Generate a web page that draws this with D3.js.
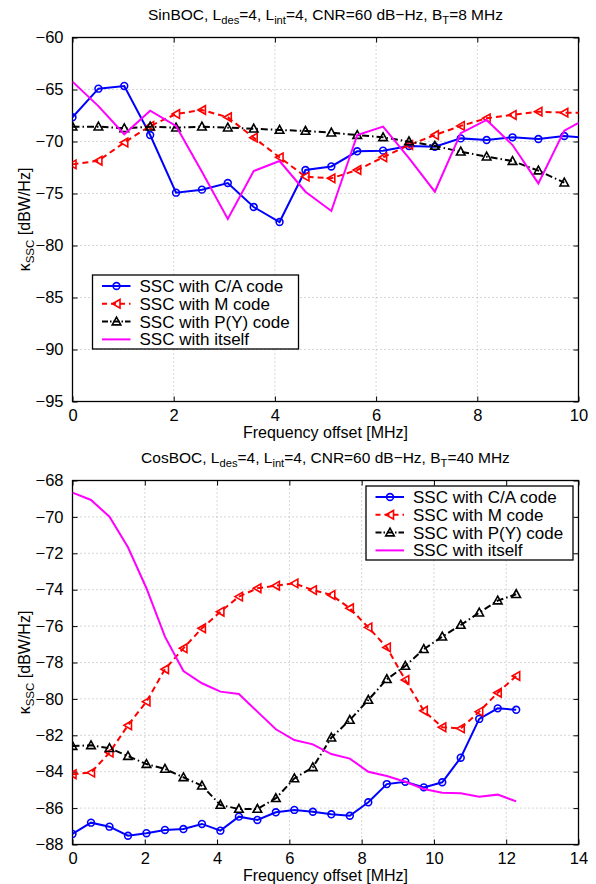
<!DOCTYPE html>
<html><head><meta charset="utf-8">
<script src="https://cdn.jsdelivr.net/npm/d3@7"></script>
<style>
body{margin:0;background:#fff;}
svg{display:block;font-family:"Liberation Sans",Arial,Helvetica,sans-serif;}
</style></head><body>
<svg id="c" width="596" height="884"></svg>
<script>
// ---------- data ----------
const seriesNames = ["SSC with C/A code","SSC with M code","SSC with P(Y) code","SSC with itself"];

// Top panel (SinBOC, B_T = 8 MHz)
const xTop = [0,0.512,1.023,1.535,2.046,2.558,3.069,3.581,4.092,4.604,5.115,5.627,6.138,6.650,7.161,7.673,8.184,8.696,9.207,9.719,10.23];
const topCA  = [-67.67,-64.92,-64.66,-69.38,-74.92,-74.63,-73.99,-76.30,-77.74,-72.74,-72.40,-70.94,-70.88,-70.43,-70.50,-69.70,-69.86,-69.60,-69.76,-69.47,-69.70];
const topM   = [-72.20,-71.85,-70.10,-68.50,-67.36,-66.97,-67.67,-69.63,-71.52,-73.38,-73.54,-72.74,-71.52,-70.34,-69.38,-68.50,-67.77,-67.45,-67.13,-67.23,-67.23];
const topPY  = [-68.57,-68.57,-68.73,-68.57,-68.67,-68.57,-68.67,-68.77,-68.89,-68.99,-69.15,-69.38,-69.60,-70.00,-70.43,-70.98,-71.46,-71.88,-72.80,-73.96];
const topSelf= [-64.25,-66.60,-69.30,-67.04,-68.50,-72.90,-77.45,-72.84,-71.88,-74.83,-76.68,-69.38,-68.57,-71.60,-74.83,-69.20,-67.93,-70.34,-74.03,-68.96,-67.60];

// Bottom panel (CosBOC, B_T = 40 MHz)
const xBot = [0,0.512,1.023,1.535,2.046,2.558,3.069,3.581,4.092,4.604,5.115,5.627,6.138,6.650,7.161,7.673,8.184,8.696,9.207,9.719,10.23,10.742,11.253,11.765,12.276];
const botCA  = [-87.42,-86.80,-87.02,-87.52,-87.38,-87.20,-87.15,-86.87,-87.24,-86.47,-86.65,-86.23,-86.10,-86.20,-86.34,-86.42,-85.68,-84.68,-84.55,-84.86,-84.58,-83.23,-81.10,-80.52,-80.60];
const botM   = [-84.14,-84.05,-82.95,-81.45,-80.15,-78.37,-77.22,-76.12,-75.21,-74.38,-73.92,-73.78,-73.65,-74.02,-74.29,-75.02,-76.07,-77.17,-78.96,-80.65,-81.56,-81.62,-80.70,-79.66,-78.74];
const botPY  = [-82.59,-82.55,-82.71,-83.14,-83.58,-83.85,-84.31,-84.77,-85.83,-86.05,-86.05,-85.46,-84.37,-83.76,-82.13,-81.16,-80.06,-78.92,-78.19,-77.27,-76.58,-75.94,-75.26,-74.60,-74.25];
const botSelf= [-68.67,-69.07,-69.99,-71.67,-73.92,-76.58,-78.47,-79.14,-79.60,-79.73,-80.70,-81.67,-82.26,-82.50,-83.03,-83.28,-84.00,-84.24,-84.55,-84.95,-85.15,-85.19,-85.37,-85.26,-85.63];

const topXTicks = [0,2,4,6,8,10];
const topYTicks = [-60,-65,-70,-75,-80,-85,-90,-95];
const botXTicks = [0,2,4,6,8,10,12,14];
const botYTicks = [-68,-70,-72,-74,-76,-78,-80,-82,-84,-86,-88];

// ---------- styles ----------
const styles = [
  {color:"#0000ff", dash:null,        marker:"circle"},
  {color:"#ff0000", dash:"6,4",       marker:"triLeft"},
  {color:"#000000", dash:"7,3,1.5,3", marker:"triUp"},
  {color:"#ff00ff", dash:null,        marker:null}
];
const FONT = 15.5;
const TICKFONT = 16.5;
const LEGFONT = 17;

const svg = d3.select("#c");
const fmt = v => (v<0 ? "\u2212"+Math.abs(v) : String(v));

function marker(g, type, color){
  if(type==="circle"){
    g.append("circle").attr("r",3.4).attr("fill","none").attr("stroke",color).attr("stroke-width",1.6);
  } else if(type==="triLeft"){
    g.append("path").attr("d","M-4,0L3.5,-4.3L3.5,4.3Z").attr("fill","none").attr("stroke",color).attr("stroke-width",1.6);
  } else if(type==="triUp"){
    g.append("path").attr("d","M0,-4.5L4.3,3.3L-4.3,3.3Z").attr("fill","none").attr("stroke",color).attr("stroke-width",1.6);
  }
}

// parts: strings (normal) or {sub:"..."}; subscript shift is restored on next part
function richText(t, parts, size){
  const shift = 4;
  let pending = 0;
  parts.forEach(p=>{
    if(typeof p==="string"){
      const s = t.append("tspan").text(p);
      if(pending){ s.attr("dy",pending); pending = 0; }
    } else {
      t.append("tspan").attr("dy",shift).attr("font-size",size*0.72).text(p.sub);
      pending = -shift;
    }
  });
}

function panel(opts){
  const {top, bottom, left, right, xDomain, yDomain, xTicks, yTicks, xs, series, title, legend, id} = opts;
  const x = d3.scaleLinear().domain(xDomain).range([left,right]);
  const y = d3.scaleLinear().domain(yDomain).range([bottom,top]);
  const g = svg.append("g");

  svg.append("defs").append("clipPath").attr("id","clip"+id)
    .append("rect").attr("x",left).attr("y",top).attr("width",right-left).attr("height",bottom-top);

  // grid
  const grid = g.append("g").attr("stroke","#9a9a9a").attr("stroke-width",0.8).attr("stroke-dasharray","1,3");
  xTicks.slice(1,-1).forEach(t=>grid.append("line").attr("x1",x(t)).attr("x2",x(t)).attr("y1",top).attr("y2",bottom));
  yTicks.slice(1,-1).forEach(t=>grid.append("line").attr("x1",left).attr("x2",right).attr("y1",y(t)).attr("y2",y(t)));

  // axes with inward ticks on all sides
  const tl = 5;
  const axB = d3.axisBottom(x).tickValues(xTicks).tickSizeInner(-tl).tickSizeOuter(0).tickPadding(8).tickFormat(fmt);
  const axT = d3.axisTop(x).tickValues(xTicks).tickSizeInner(-tl).tickSizeOuter(0).tickFormat("");
  const axL = d3.axisLeft(y).tickValues(yTicks).tickSizeInner(-tl).tickSizeOuter(0).tickPadding(9).tickFormat(fmt);
  const axR = d3.axisRight(y).tickValues(yTicks).tickSizeInner(-tl).tickSizeOuter(0).tickFormat("");
  [[axB,`translate(0,${bottom})`],[axT,`translate(0,${top})`],[axL,`translate(${left},0)`],[axR,`translate(${right},0)`]].forEach(([a,tr])=>{
    const ag = g.append("g").attr("transform",tr).call(a);
    ag.select(".domain").remove();
    ag.selectAll("line").attr("stroke","#000").attr("stroke-width",1);
    ag.selectAll("text").attr("font-size",TICKFONT).attr("fill","#000").attr("font-family","Liberation Sans, Arial, sans-serif");
  });
  g.append("rect").attr("x",left).attr("y",top).attr("width",right-left).attr("height",bottom-top)
    .attr("fill","none").attr("stroke","#000").attr("stroke-width",1.3);

  // series
  const sg = g.append("g").attr("clip-path",`url(#clip${id})`);
  series.forEach((vals,i)=>{
    const st = styles[i];
    const pts = vals.map((v,k)=>[xs[k],v]);
    const line = d3.line().x(d=>x(d[0])).y(d=>y(d[1]));
    const p = sg.append("path").attr("d",line(pts)).attr("fill","none").attr("stroke",st.color).attr("stroke-width",2);
    if(st.dash) p.attr("stroke-dasharray",st.dash);
    if(st.marker){
      pts.forEach(d=>{
        if(d[0] > xDomain[1]) return;
        const mg = sg.append("g").attr("transform",`translate(${x(d[0])},${y(d[1])})`);
        marker(mg, st.marker, st.color);
      });
    }
  });

  // labels
  g.append("text").attr("x",(left+right)/2).attr("y",bottom+36).attr("text-anchor","middle")
    .attr("font-size",FONT+0.5).text("Frequency offset [MHz]");
  const yl = g.append("text").attr("transform",`translate(30,${(top+bottom)/2}) rotate(-90)`).attr("text-anchor","middle").attr("font-size",FONT+0.5);
  richText(yl, ["\u03ba",{sub:"SSC"}," [dBW/Hz]"], FONT+0.5);

  const tt = g.append("text").attr("x",(left+right)/2).attr("y",top-18).attr("text-anchor","middle").attr("font-size",FONT);
  richText(tt, title, FONT);

  // legend
  const lg = g.append("g");
  lg.append("rect").attr("x",legend.x).attr("y",legend.y).attr("width",legend.w).attr("height",legend.h)
    .attr("fill","#fff").attr("stroke","#000").attr("stroke-width",1.3);
  seriesNames.forEach((nm,i)=>{
    const st = styles[i];
    const yy = legend.y + 11 + i*17.8;
    const l = lg.append("line").attr("x1",legend.x+9.5).attr("x2",legend.x+38).attr("y1",yy).attr("y2",yy)
      .attr("stroke",st.color).attr("stroke-width",2);
    if(st.dash) l.attr("stroke-dasharray", i===1?"5,4":"6,2,1.5,2");
    if(st.marker){
      const mg = lg.append("g").attr("transform",`translate(${legend.x+24},${yy})`);
      marker(mg, st.marker, st.color);
    }
    lg.append("text").attr("x",legend.x+47).attr("y",yy+6).attr("font-size",LEGFONT).text(nm);
  });
}

panel({id:1, top:37.5, bottom:401.5, left:72.5, right:578.5,
  xDomain:[0,10], yDomain:[-95,-60], xTicks:topXTicks, yTicks:topYTicks, xs:xTop,
  series:[topCA, topM, topPY, topSelf],
  title:["SinBOC, L",{sub:"des"},"=4, L",{sub:"int"},"=4, CNR=60 dB\u2212Hz, B",{sub:"T"},"=8 MHz"],
  legend:{x:92.5, y:275, w:206, h:74}});

panel({id:2, top:480.5, bottom:844.5, left:72.5, right:578.5,
  xDomain:[0,14], yDomain:[-88,-68], xTicks:botXTicks, yTicks:botYTicks, xs:xBot,
  series:[botCA, botM, botPY, botSelf],
  title:["CosBOC, L",{sub:"des"},"=4, L",{sub:"int"},"=4, CNR=60 dB\u2212Hz, B",{sub:"T"},"=40 MHz"],
  legend:{x:366, y:486, w:207, h:74}});
</script>
</body></html>
